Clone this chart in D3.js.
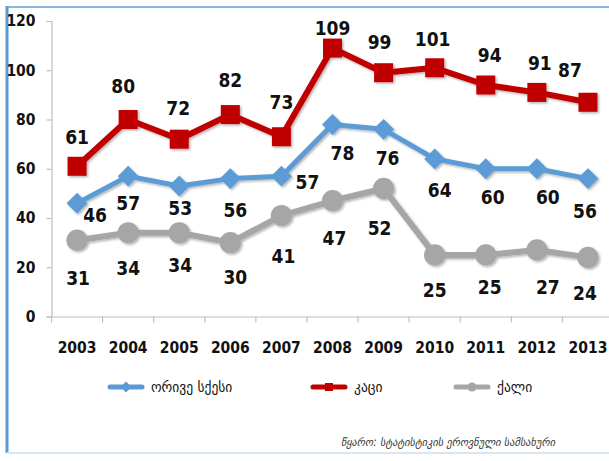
<!DOCTYPE html>
<html>
<head>
<meta charset="utf-8">
<script src="https://cdn.jsdelivr.net/npm/d3@7"></script>
<style>
  body { margin: 0; background: #fff; }
  svg { display: block; }
</style>
</head>
<body>
<div id="chart"></div>
<script>
// data
var years = ['2003','2004','2005','2006','2007','2008','2009','2010','2011','2012','2013'];
var both   = [46, 57, 53, 56, 57, 78, 76, 64, 60, 60, 56];
var male   = [61, 80, 72, 82, 73, 109, 99, 101, 94, 91, 87];
var female = [31, 34, 34, 30, 41, 47, 52, 25, 25, 27, 24];
var yTicks = [0, 20, 40, 60, 80, 100, 120];
var seriesNames = ['ორივე სქესი', 'კაცი', 'ქალი'];
var sourceText = 'წყარო: სტატისტიკის ეროვნული სამსახური';

// label nudges (dx, dy) relative to each marker
var maleLab   = [[0,-29],[-5,-34],[-1,-31],[0,-35],[0,-35],[0,-20],[-4,-31],[-2,-29],[4,-30],[3,-29],[-18,-32]];
var bothLab   = [[18,12],[0,27],[1,22],[5,31],[26,6],[10,29],[4,29],[5,31],[7,28],[11,28],[-3,32]];
var femaleLab = [[1,38],[0,35],[1,32],[5,34],[2,40],[2,37],[-4,40],[0,35],[4,32],[11,37],[-3,36]];

var W = 609, H = 461;
var numFont = '"DejaVu Sans Condensed", "Liberation Sans Narrow", sans-serif';

var svg = d3.select('#chart').append('svg')
    .attr('width', W).attr('height', H);

var defs = svg.append('defs');
var f = defs.append('filter').attr('id', 'shd')
    .attr('x', '-20%').attr('y', '-20%').attr('width', '140%').attr('height', '140%');
f.append('feDropShadow').attr('dx', 1.5).attr('dy', 1.5)
    .attr('stdDeviation', 1.2).attr('flood-color', '#000').attr('flood-opacity', 0.3);

// frame
svg.append('line').attr('x1', 7).attr('x2', W).attr('y1', 7).attr('y2', 7)
    .attr('stroke', '#8ab6e2').attr('stroke-width', 2);
svg.append('line').attr('x1', 7).attr('x2', 7).attr('y1', 6).attr('y2', 453)
    .attr('stroke', '#5b9bd5').attr('stroke-width', 3);
svg.append('line').attr('x1', 7).attr('x2', W).attr('y1', 453).attr('y2', 453)
    .attr('stroke', '#d6e6f5').attr('stroke-width', 2);

var x = d3.scaleBand().domain(years).range([51.5, 613.5]);
var y = d3.scaleLinear().domain([0, 120]).range([316.5, 21]);

// y axis
var yAx = svg.append('g').attr('transform', 'translate(51.5,0)')
    .call(d3.axisLeft(y).tickValues(yTicks).tickSize(5).tickPadding(11));
yAx.select('.domain').attr('stroke', '#bfbfbf').attr('stroke-width', 1.2);
yAx.selectAll('.tick line').attr('stroke', '#bfbfbf').attr('stroke-width', 1.2);
yAx.selectAll('text').attr('font-family', numFont).attr('font-weight', 'bold')
    .attr('font-size', 15.5).attr('fill', '#111');

// x axis
var xAx = svg.append('g').attr('transform', 'translate(0,316.5)')
    .call(d3.axisBottom(x).tickSize(0).tickPadding(25));
xAx.select('.domain').attr('stroke', '#bfbfbf').attr('stroke-width', 1.2);
xAx.selectAll('text').attr('font-family', numFont).attr('font-weight', 'bold')
    .attr('font-size', 15.5).attr('fill', '#111');
xAx.selectAll('.sep').data(years).enter().append('line')
    .attr('x1', function(d) { return x(d); }).attr('x2', function(d) { return x(d); })
    .attr('y1', 0).attr('y2', 6)
    .attr('stroke', '#bfbfbf').attr('stroke-width', 1.2);

function cx(i) { return x(years[i]) + x.bandwidth() / 2; }

var series = [
  { vals: female, color: '#a6a6a6', shape: 'circle', lab: femaleLab, width: 6 },
  { vals: both,   color: '#5b9bd5', shape: 'diamond', lab: bothLab, width: 5 },
  { vals: male,   color: '#c00000', shape: 'square', lab: maleLab, width: 6 }
];

var line = d3.line()
    .x(function(d, i) { return cx(i); })
    .y(function(d) { return y(d); });

function marker(g, shape, color, px, py, s) {
  if (shape == 'circle') {
    g.append('circle').attr('cx', px).attr('cy', py).attr('r', s * 0.56).attr('fill', color);
  } else if (shape == 'square') {
    g.append('rect').attr('x', px - s / 2).attr('y', py - s / 2)
        .attr('width', s).attr('height', s).attr('fill', color);
  } else {
    var h = s * 0.55;
    g.append('path').attr('d', 'M' + px + ',' + (py - h) + 'L' + (px + h) + ',' + py +
        'L' + px + ',' + (py + h) + 'L' + (px - h) + ',' + py + 'Z').attr('fill', color);
  }
}

series.forEach(function(s) {
  var g = svg.append('g').attr('filter', 'url(#shd)');
  g.append('path').datum(s.vals)
      .attr('d', line)
      .attr('fill', 'none')
      .attr('stroke', s.color)
      .attr('stroke-width', s.width)
      .attr('stroke-linejoin', 'round');
  s.vals.forEach(function(v, i) {
    marker(g, s.shape, s.color, cx(i), y(v), s.shape == 'diamond' ? 19 : 19);
  });
});

// value labels
series.forEach(function(s) {
  svg.append('g').selectAll('text').data(s.vals).enter().append('text')
      .attr('x', function(d, i) { return cx(i) + s.lab[i][0]; })
      .attr('y', function(d, i) { return y(d) + s.lab[i][1]; })
      .attr('text-anchor', 'middle')
      .attr('dominant-baseline', 'central')
      .attr('font-family', numFont)
      .attr('font-weight', 'bold')
      .attr('font-size', 19)
      .attr('fill', '#111')
      .text(function(d) { return d; });
});

// legend
var legend = [
  { name: seriesNames[0], color: '#5b9bd5', shape: 'diamond', x: 110 },
  { name: seriesNames[1], color: '#c00000', shape: 'square', x: 313 },
  { name: seriesNames[2], color: '#a6a6a6', shape: 'circle', x: 456 }
];
legend.forEach(function(l) {
  var g = svg.append('g');
  g.append('line').attr('x1', l.x).attr('x2', l.x + 32).attr('y1', 387).attr('y2', 387)
      .attr('stroke', l.color).attr('stroke-width', 5).attr('stroke-linecap', 'round');
  marker(g, l.shape, l.color, l.x + 16, 387, l.shape == 'diamond' ? 10 : 8);
  g.append('text').attr('x', l.x + 41).attr('y', 387)
      .attr('dominant-baseline', 'central')
      .attr('font-family', '"DejaVu Sans Condensed", "DejaVu Sans", sans-serif')
      .attr('font-size', 15).attr('fill', '#111')
      .text(l.name);
});

// source
svg.append('text').attr('x', 555).attr('y', 442)
    .attr('text-anchor', 'end').attr('dominant-baseline', 'central')
    .attr('font-family', '"DejaVu Sans Condensed", "DejaVu Sans", sans-serif')
    .attr('font-style', 'italic').attr('font-size', 11.5).attr('fill', '#333')
    .text(sourceText);
</script>
</body>
</html>
